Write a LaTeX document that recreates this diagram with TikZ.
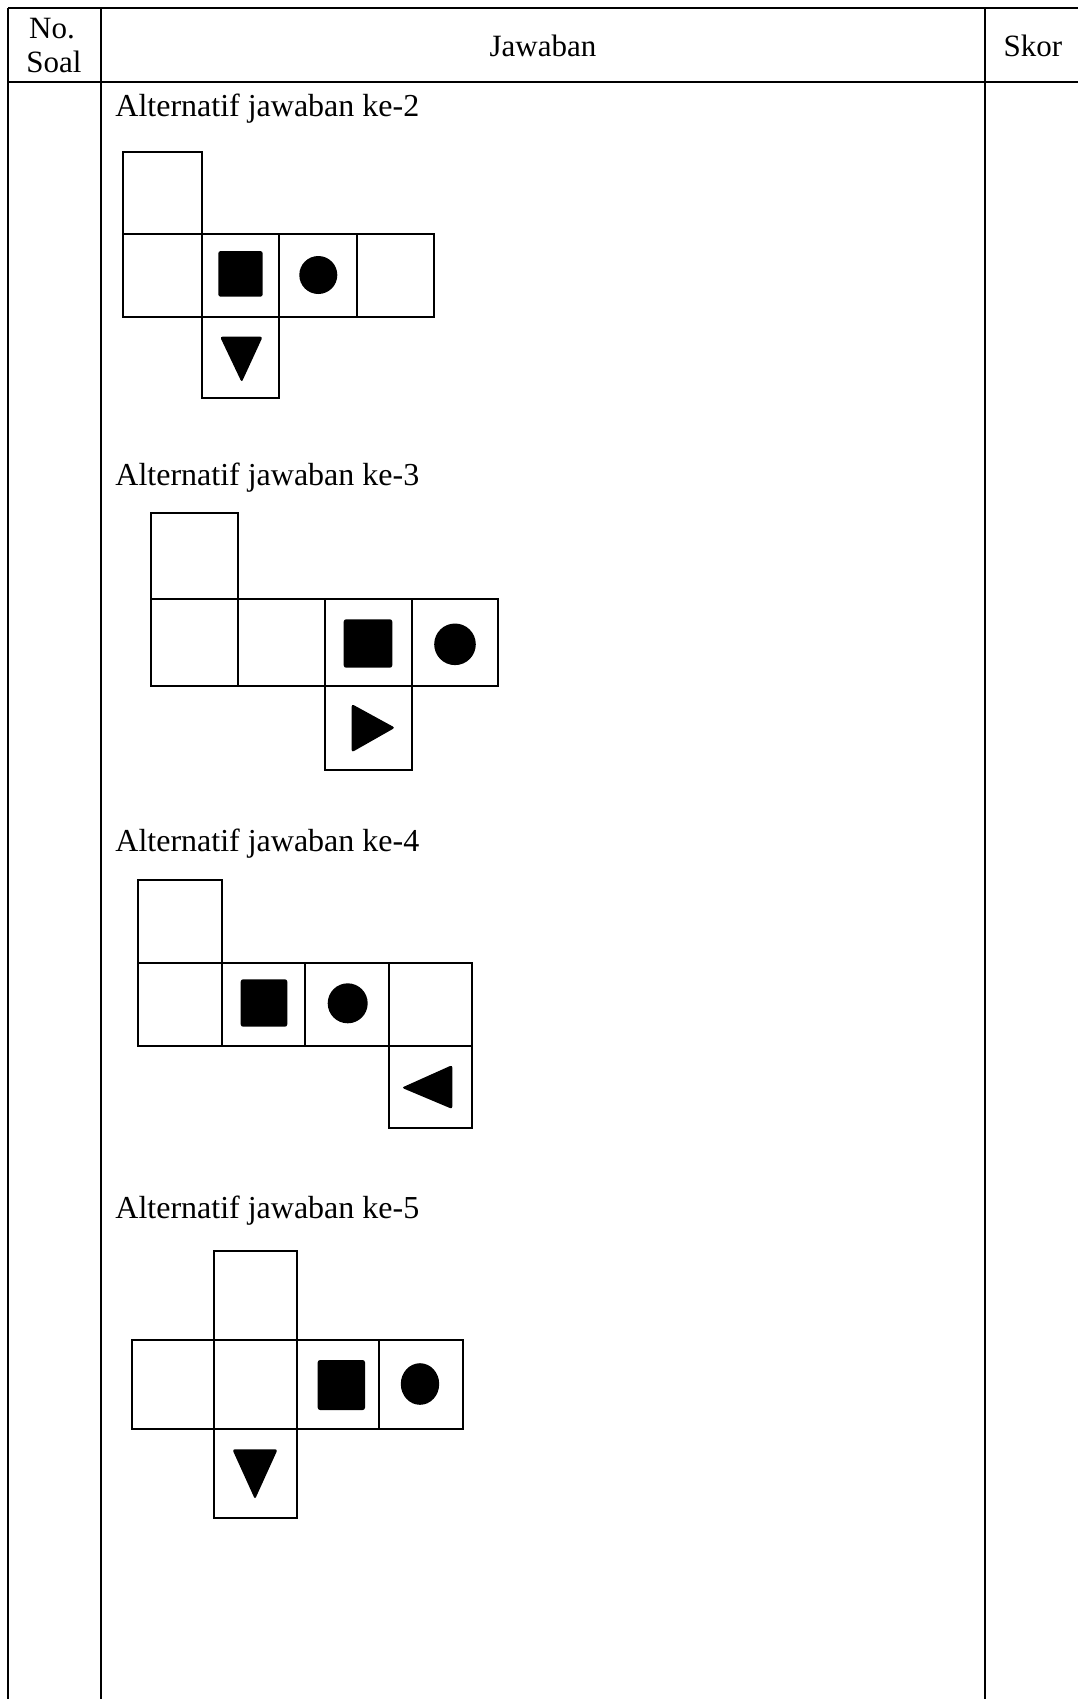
\documentclass[tikz,border=0pt]{standalone}
\usepackage{fontspec}
\setmainfont{Liberation Serif}
\newcommand\netcell[4]{\draw[cellline] (#1,#2) rectangle (#3,#4);}
\begin{document}
\begin{tikzpicture}[x=0.5pt,y=-0.5pt,
  tabline/.style={line width=1pt,black},
  cellline/.style={line width=0.9pt,black},
  sym/.style={fill=black,rounded corners=1.2pt},
  hdr/.style={font=\fontsize{15.5pt}{18pt}\selectfont,inner sep=0pt,anchor=base},
  lbl/.style={font=\fontsize{16pt}{19pt}\selectfont,inner sep=0pt,anchor=base west}]
\useasboundingbox (0,0) rectangle (1078,1699);
% table
\draw[tabline] (8,7.5) -- (1078,7.5);
\draw[tabline] (8,82.3) -- (1078,82.3);
\draw[tabline] (8,7.5) -- (8,1699);
\draw[tabline] (101,7.5) -- (101,1699);
\draw[tabline] (985,7.5) -- (985,1699);
% header
\node[hdr] (no) at (52,38.5) {No.};
\node[hdr] (soal) at (54,72.7) {Soal};
\node[hdr] (jaw) at (543,56) {Jawaban};
\node[hdr] (skor) at (1033,56) {Skor};
% labels
\node[lbl] (l2) at (115,116) {Alternatif jawaban ke-2};
\node[lbl] (l3) at (115,485) {Alternatif jawaban ke-3};
\node[lbl] (l4) at (115,851) {Alternatif jawaban ke-4};
\node[lbl] (l5) at (115,1218) {Alternatif jawaban ke-5};
% net 1
\netcell{123.3}{151.7}{201.7}{234}
\netcell{123.3}{234}{201.7}{316.7}
\netcell{201.7}{234}{279.3}{316.7}
\netcell{279.3}{234}{356.7}{316.7}
\netcell{356.7}{234}{434}{316.7}
\netcell{201.7}{316.7}{279.3}{397.7}
\fill[sym] (218.3,251) rectangle (262.7,296.7);
\fill (318.3,275) circle[radius=19];
\fill[sym] (220,336.7) -- (262.7,336.7) -- (241.7,382.3) -- cycle;
% net 2
\netcell{151}{513.3}{237.7}{599.3}
\netcell{151}{599.3}{237.7}{685.7}
\netcell{237.7}{599.3}{324.7}{685.7}
\netcell{324.7}{599.3}{411.7}{685.7}
\netcell{411.7}{599.3}{498.3}{685.7}
\netcell{324.7}{685.7}{411.7}{770}
\fill[sym] (343.7,619.3) rectangle (392.3,667.7);
\fill (455,644.3) circle[radius=20.8];
\fill[sym] (351.7,704) -- (395,727.7) -- (351.7,752.3) -- cycle;
% net 3
\netcell{138.3}{880}{222.3}{962.7}
\netcell{138.3}{962.7}{222.3}{1045.7}
\netcell{222.3}{962.7}{305.3}{1045.7}
\netcell{305.3}{962.7}{388.7}{1045.7}
\netcell{388.7}{962.7}{472.3}{1045.7}
\netcell{388.7}{1045.7}{472.3}{1128.3}
\fill[sym] (240.7,979.3) rectangle (287.3,1026.7);
\fill (347.7,1003.3) circle[radius=20];
\fill[sym] (452.3,1065) -- (452.3,1109) -- (401.7,1087.7) -- cycle;
% net 4
\netcell{214.3}{1250.7}{296.7}{1340}
\netcell{131.7}{1340}{214.3}{1429.3}
\netcell{214.3}{1340}{296.7}{1429.3}
\netcell{296.7}{1340}{379.3}{1429.3}
\netcell{379.3}{1340}{462.7}{1429.3}
\netcell{214.3}{1429.3}{296.7}{1518.3}
\fill[sym] (317.7,1360) rectangle (365,1410);
\fill (420,1384) ellipse[x radius=19.2,y radius=20.8];
\fill[sym] (232.3,1449.3) -- (277.7,1449.3) -- (255,1499.3) -- cycle;
\end{tikzpicture}
\end{document}
